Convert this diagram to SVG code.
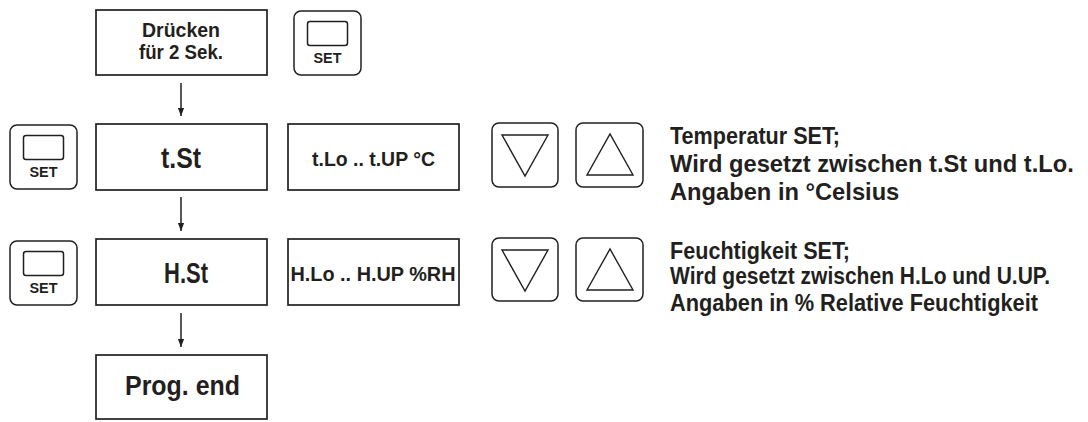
<svg xmlns="http://www.w3.org/2000/svg" width="1088" height="422" viewBox="0 0 1088 422">
<style>
.box{fill:#fff;stroke:#231f20;stroke-width:1.7}
.btn{fill:#fff;stroke:#231f20;stroke-width:1.5}
.tri{fill:none;stroke:#231f20;stroke-width:1.4}
.t{font-family:"Liberation Sans",Arial,sans-serif;font-weight:bold;fill:#231f20}
.c{text-anchor:middle}
.ln{stroke:#231f20;stroke-width:1.5;fill:none}
</style>
<defs>
<marker id="ah" markerWidth="8" markerHeight="10" refX="9" refY="3.5" orient="auto" markerUnits="userSpaceOnUse" viewBox="0 0 9 7">
<path d="M0,0 L9,3.5 L0,7 Z" fill="#231f20"/>
</marker>
<g id="setbtn">
<rect class="btn" x="0" y="0" width="67" height="64" rx="7"/>
<rect class="btn" x="13.5" y="10.5" width="40" height="24" rx="2.5"/>
<text class="t c" x="33.5" y="52" font-size="14" textLength="28" lengthAdjust="spacingAndGlyphs">SET</text>
</g>
</defs>
<g id="connectors">
<line class="ln" x1="181" y1="83" x2="181" y2="116" marker-end="url(#ah)"/>
<line class="ln" x1="181" y1="197" x2="181" y2="231" marker-end="url(#ah)"/>
<line class="ln" x1="181" y1="313" x2="181" y2="347" marker-end="url(#ah)"/>
</g>
<g id="n-druecken">
<rect class="box" x="96" y="10" width="171" height="65"/>
<text class="t c" x="181" y="37" font-size="19.5" textLength="78" lengthAdjust="spacingAndGlyphs">Drücken</text>
<text class="t c" x="181" y="59" font-size="19.5" textLength="84" lengthAdjust="spacingAndGlyphs">für 2 Sek.</text>
</g>
<g id="n-set0"><use href="#setbtn" x="294" y="11"/></g>
<g id="n-set1"><use href="#setbtn" x="10" y="125"/></g>
<g id="n-tst">
<rect class="box" x="96" y="124" width="171" height="66"/>
<text class="t c" x="181" y="168" font-size="29" textLength="40" lengthAdjust="spacingAndGlyphs">t.St</text>
</g>
<g id="n-trange">
<rect class="box" x="288" y="124" width="171" height="66"/>
<text class="t c" x="373.5" y="166" font-size="21" textLength="123" lengthAdjust="spacingAndGlyphs">t.Lo .. t.UP °C</text>
</g>
<g id="n-tdown">
<rect class="btn" x="492" y="123" width="66" height="64" rx="7"/>
<polygon class="tri" points="502,135 548,135 525,176"/>
</g>
<g id="n-tup">
<rect class="btn" x="576" y="123" width="67" height="64" rx="7"/>
<polygon class="tri" points="587,175 633,175 610,134"/>
</g>
<g id="n-ttext">
<text class="t" x="670" y="144" font-size="23" textLength="170" lengthAdjust="spacingAndGlyphs">Temperatur SET;</text>
<text class="t" x="670" y="172" font-size="23.7">Wird gesetzt zwischen t.St und t.Lo.</text>
<text class="t" x="670" y="200" font-size="23.7">Angaben in °Celsius</text>
</g>
<g id="n-set2"><use href="#setbtn" x="10" y="241"/></g>
<g id="n-hst">
<rect class="box" x="96" y="239" width="171" height="66"/>
<text class="t c" x="186" y="283" font-size="29" textLength="44" lengthAdjust="spacingAndGlyphs">H.St</text>
</g>
<g id="n-hrange">
<rect class="box" x="288" y="239" width="171" height="66"/>
<text class="t c" x="373" y="281" font-size="21" textLength="165" lengthAdjust="spacingAndGlyphs">H.Lo .. H.UP %RH</text>
</g>
<g id="n-hdown">
<rect class="btn" x="492" y="238" width="66" height="63" rx="7"/>
<polygon class="tri" points="502,250 548,250 525,291"/>
</g>
<g id="n-hup">
<rect class="btn" x="576" y="238" width="67" height="63" rx="7"/>
<polygon class="tri" points="587,290 633,290 610,249"/>
</g>
<g id="n-htext">
<text class="t" x="670" y="259" font-size="23" textLength="180" lengthAdjust="spacingAndGlyphs">Feuchtigkeit SET;</text>
<text class="t" x="670" y="284" font-size="23" textLength="380" lengthAdjust="spacingAndGlyphs">Wird gesetzt zwischen H.Lo und U.UP.</text>
<text class="t" x="670" y="311" font-size="23" textLength="368" lengthAdjust="spacingAndGlyphs">Angaben in % Relative Feuchtigkeit</text>
</g>
<g id="n-end">
<rect class="box" x="96" y="355" width="171" height="64"/>
<text class="t c" x="182.5" y="395" font-size="27" textLength="115" lengthAdjust="spacingAndGlyphs">Prog. end</text>
</g>
</svg>
